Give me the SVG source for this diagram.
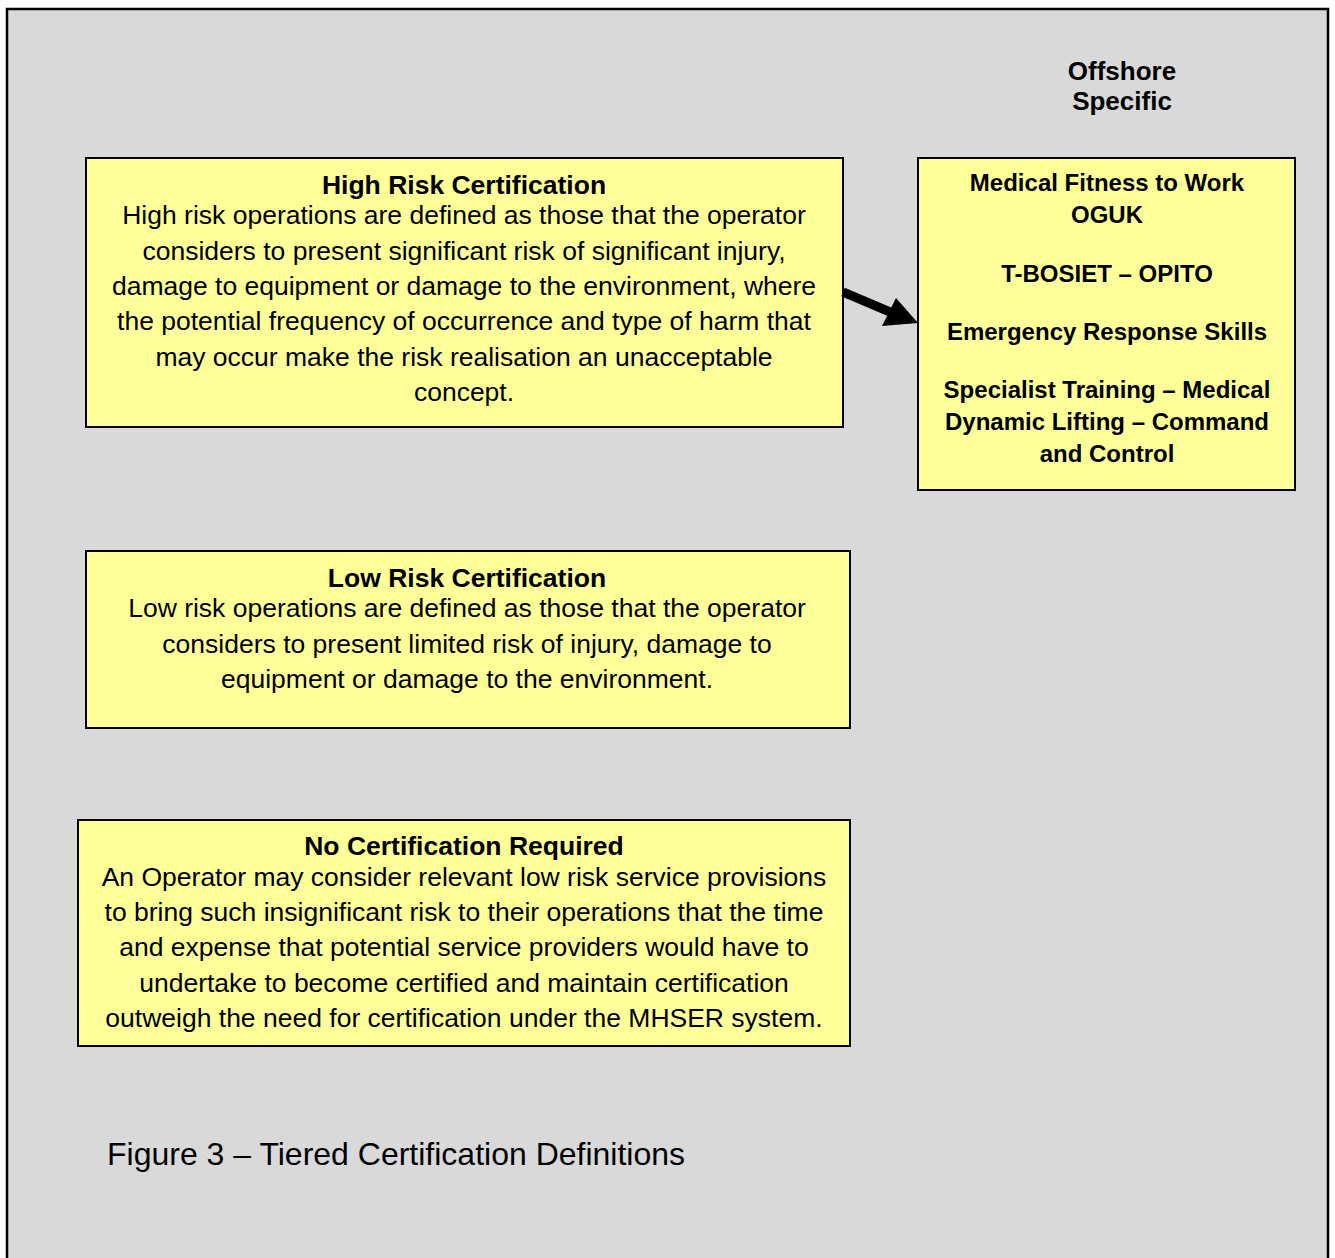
<svg xmlns="http://www.w3.org/2000/svg" width="1335" height="1258" viewBox="0 0 1335 1258">
<style>
.box{fill:#ffff99;stroke:#000;stroke-width:2}
.t{font-family:"Liberation Sans",Arial,sans-serif;fill:#000;text-anchor:middle}
.h{font-size:26.5px;font-weight:bold}
.b{font-size:26.5px}
.r{font-size:24px;font-weight:bold}
</style>
<rect x="0" y="0" width="1335" height="1258" fill="#fff"/>
<rect x="7" y="9" width="1321" height="1260" fill="#d9d9d9" stroke="#000" stroke-width="2.5"/>
<g id="offshore-label">
<text class="t" x="1122" y="80" style="font-size:26px;font-weight:bold">Offshore</text>
<text class="t" x="1122" y="110" style="font-size:26px;font-weight:bold">Specific</text>
</g>
<g id="high-risk">
<rect class="box" x="86" y="158" width="757" height="269"/>
<text class="t h" x="464" y="194">High Risk Certification</text>
<text class="t b" x="464" y="224">High risk operations are defined as those that the operator</text>
<text class="t b" x="464" y="260">considers to present significant risk of significant injury,</text>
<text class="t b" x="464" y="295">damage to equipment or damage to the environment, where</text>
<text class="t b" x="464" y="330">the potential frequency of occurrence and type of harm that</text>
<text class="t b" x="464" y="366">may occur make the risk realisation an unacceptable</text>
<text class="t b" x="464" y="401">concept.</text>
</g>
<g id="offshore-box">
<rect class="box" x="918" y="158" width="377" height="332"/>
<text class="t r" x="1107" y="191">Medical Fitness to Work</text>
<text class="t r" x="1107" y="223">OGUK</text>
<text class="t r" x="1107" y="282">T-BOSIET – OPITO</text>
<text class="t r" x="1107" y="340">Emergency Response Skills</text>
<text class="t r" x="1107" y="398">Specialist Training – Medical</text>
<text class="t r" x="1107" y="430">Dynamic Lifting – Command</text>
<text class="t r" x="1107" y="462">and Control</text>
</g>
<g id="low-risk">
<rect class="box" x="86" y="551" width="764" height="177"/>
<text class="t h" x="467" y="587">Low Risk Certification</text>
<text class="t b" x="467" y="617">Low risk operations are defined as those that the operator</text>
<text class="t b" x="467" y="653">considers to present limited risk of injury, damage to</text>
<text class="t b" x="467" y="688">equipment or damage to the environment.</text>
</g>
<g id="no-cert">
<rect class="box" x="78" y="820" width="772" height="226"/>
<text class="t h" x="464" y="855">No Certification Required</text>
<text class="t b" x="464" y="886">An Operator may consider relevant low risk service provisions</text>
<text class="t b" x="464" y="921">to bring such insignificant risk to their operations that the time</text>
<text class="t b" x="464" y="956">and expense that potential service providers would have to</text>
<text class="t b" x="464" y="992">undertake to become certified and maintain certification</text>
<text class="t b" x="464" y="1027">outweigh the need for certification under the MHSER system.</text>
</g>
<g id="caption">
<text class="t" x="107" y="1165" style="font-size:32px;text-anchor:start">Figure 3 – Tiered Certification Definitions</text>
</g>
<g id="connectors">
<line x1="843" y1="292" x2="890" y2="312" stroke="#000" stroke-width="9"/>
<path d="M896,298 L918,323 L882,326 z" fill="#000"/>
</g>
</svg>
